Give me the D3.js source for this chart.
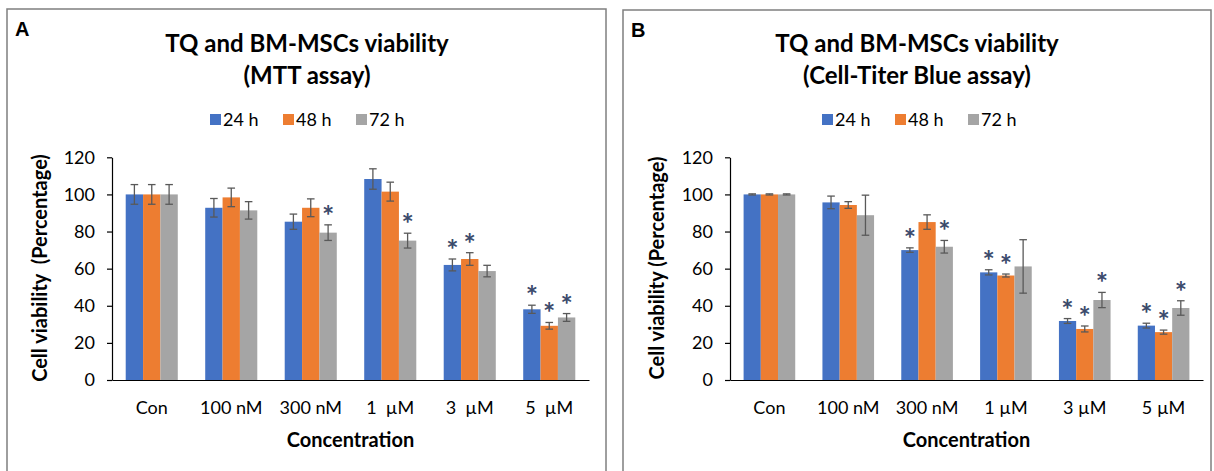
<!DOCTYPE html>
<meta charset="utf-8">
<style>
body { margin: 0; background: #fff; }
svg text { font-family: Lato, "Noto Sans", sans-serif; fill: #000; white-space: pre; }
</style>
<body>
<script src="https://d3js.org/d3.v7.min.js"></script>
<script>
// categories and series
var catsA = ["Con", "100 nM", "300 nM", "1  µM", "3  µM", "5  µM"];
var catsB = ["Con", "100 nM", "300 nM", "1 µM", "3 µM", "5 µM"];
var series = ["24 h", "48 h", "72 h"];
var colors = ["#4472C4", "#ED7D31", "#A5A5A5"];
var yTicks = [0, 20, 40, 60, 80, 100, 120];

// MTT assay (panel A)
var mtt24 = [100, 92.8, 85.3, 108.3, 62, 38.1];
var mtt48 = [100, 98.4, 92.8, 101.5, 65.2, 29.2];
var mtt72 = [100, 91.4, 79.4, 75.1, 58.7, 33.7];
var mtt24Err = [5.3, 5, 4.1, 5.5, 3.2, 2.2];
var mtt48Err = [5.3, 5, 4.8, 5.1, 3.4, 1.8];
var mtt72Err = [5.3, 4.7, 4.2, 4, 3.1, 2.1];
var mtt24Sig = [0, 0, 0, 0, 1, 1];
var mtt48Sig = [0, 0, 0, 0, 1, 1];
var mtt72Sig = [0, 0, 1, 1, 0, 1];

// Cell-Titer Blue assay (panel B)
var ctb24 = [100, 95.7, 70, 58, 31.8, 29.3];
var ctb48 = [100, 94.3, 85.1, 56.3, 27.5, 25.8];
var ctb72 = [100, 88.8, 71.8, 61.2, 43.1, 38.8];
var ctb24Err = [0.3, 3.4, 1.2, 1.4, 1.3, 1.3];
var ctb48Err = [0.3, 1.8, 3.9, 0.8, 1.6, 1.1];
var ctb72Err = [0.3, 10.8, 3.4, 14.4, 4.1, 3.9];
var ctb24Sig = [0, 0, 1, 1, 1, 1];
var ctb48Sig = [0, 0, 0, 1, 1, 1];
var ctb72Sig = [0, 0, 1, 0, 1, 1];

var svg = d3.select("body").append("svg")
  .attr("width", 1214).attr("height", 471);

function drawPanel(p) {
  var g = svg.append("g");

  g.append("rect")
    .attr("x", p.box[0]).attr("y", p.box[1])
    .attr("width", p.box[2]).attr("height", p.box[3])
    .attr("fill", "none").attr("stroke", "#7f7f7f").attr("stroke-width", 1.5);

  g.append("text").text(p.letter)
    .attr("x", p.box[0] + 8).attr("y", p.box[1] + 27)
    .style("font-family", "Arial, 'Liberation Sans'")
    .style("font-weight", "bold").style("font-size", "20px");

  // title
  p.title.forEach(function(t, i) {
    g.append("text").text(t)
      .attr("x", p.titleX).attr("y", 52 + i * 32)
      .attr("text-anchor", "middle")
      .style("font-weight", "bold").style("font-size", "24px");
  });

  // legend
  var leg = g.selectAll(".leg").data(series).enter().append("g")
    .attr("transform", function(d, i) { return "translate(" + (p.legendX + i * 73) + ",0)"; });
  leg.append("rect").attr("x", 0).attr("y", 114).attr("width", 11).attr("height", 11)
    .attr("fill", function(d, i) { return colors[i]; });
  leg.append("text").text(function(d) { return d; })
    .attr("x", 13).attr("y", 126).style("font-size", "18px");

  var x0 = d3.scaleBand().domain(p.cats).range([p.x0, p.x1])
    .paddingInner(0.345).paddingOuter(0.1725);
  var x1 = d3.scaleBand().domain(series).range([0, x0.bandwidth()]);
  var y = d3.scaleLinear().domain([0, 120]).range([380, 157.3]);

  var yAxis = g.append("g").attr("transform", "translate(" + p.x0 + ",0)")
    .call(d3.axisLeft(y).tickValues(yTicks).tickSize(5).tickSizeOuter(0).tickPadding(12));
  yAxis.selectAll("text").style("font-size", "18px").style("font-family", "Lato");
  yAxis.selectAll("line,path").attr("stroke", "#000").attr("stroke-width", 1.2);

  var xAxis = g.append("g").attr("transform", "translate(0,380)")
    .call(d3.axisBottom(x0).tickSize(0).tickSizeOuter(0).tickPadding(21));
  xAxis.selectAll("text").style("font-size", "18px").style("font-family", "Lato");
  xAxis.select("path").attr("stroke", "#000").attr("stroke-width", 1.2);

  // bars, error bars, stars
  p.values.forEach(function(vals, s) {
    var sg = g.append("g");
    var rows = p.cats.map(function(c, j) {
      return { cat: c, v: vals[j], e: p.errs[s][j], sig: p.sigs[s][j] };
    });
    var cx = function(d) { return x0(d.cat) + x1(series[s]) + x1.bandwidth() / 2; };

    sg.selectAll("rect").data(rows).enter().append("rect")
      .attr("x", function(d) { return x0(d.cat) + x1(series[s]); })
      .attr("y", function(d) { return y(d.v); })
      .attr("width", x1.bandwidth())
      .attr("height", function(d) { return y(0) - y(d.v); })
      .attr("fill", colors[s]);

    var eb = sg.selectAll(".err").data(rows).enter().append("g")
      .attr("stroke", "#595959").attr("stroke-width", 1.3);
    eb.append("line")
      .attr("x1", cx).attr("x2", cx)
      .attr("y1", function(d) { return y(d.v + d.e); })
      .attr("y2", function(d) { return y(d.v - d.e); });
    eb.append("line")
      .attr("x1", function(d) { return cx(d) - 3.8; }).attr("x2", function(d) { return cx(d) + 3.8; })
      .attr("y1", function(d) { return y(d.v + d.e); }).attr("y2", function(d) { return y(d.v + d.e); });
    eb.append("line")
      .attr("x1", function(d) { return cx(d) - 3.8; }).attr("x2", function(d) { return cx(d) + 3.8; })
      .attr("y1", function(d) { return y(d.v - d.e); }).attr("y2", function(d) { return y(d.v - d.e); });

    sg.selectAll(".star").data(rows.filter(function(d) { return d.sig; })).enter().append("text")
      .text("*")
      .attr("x", cx).attr("y", function(d) { return y(d.v + d.e) + 1; })
      .attr("text-anchor", "middle")
      .style("font-weight", "bold").style("font-size", "29px")
      .style("fill", "#3B4A6B");
  });

  g.append("text").text("Concentration")
    .attr("x", (p.x0 + p.x1) / 2).attr("y", 447)
    .attr("text-anchor", "middle")
    .style("font-weight", "bold").style("font-size", "20px");

  g.append("text").text(p.yLabel)
    .attr("transform", "translate(" + p.yLabelX + ",268) rotate(-90)")
    .attr("text-anchor", "middle")
    .style("font-weight", "bold").style("font-size", "20px");
}

drawPanel({
  letter: "A", box: [7, 9, 599, 470],
  title: ["TQ and BM-MSCs viability", "(MTT assay)"], titleX: 307,
  legendX: 210, x0: 112, x1: 589,
  cats: catsA,
  values: [mtt24, mtt48, mtt72],
  errs: [mtt24Err, mtt48Err, mtt72Err],
  sigs: [mtt24Sig, mtt48Sig, mtt72Sig],
  yLabel: "Cell viability  (Percentage)", yLabelX: 47
});

drawPanel({
  letter: "B", box: [623, 10, 588, 470],
  title: ["TQ and BM-MSCs viability", "(Cell-Titer Blue assay)"], titleX: 917,
  legendX: 822, x0: 730, x1: 1203,
  cats: catsB,
  values: [ctb24, ctb48, ctb72],
  errs: [ctb24Err, ctb48Err, ctb72Err],
  sigs: [ctb24Sig, ctb48Sig, ctb72Sig],
  yLabel: "Cell viability (Percentage)", yLabelX: 664
});
</script>
</body>
